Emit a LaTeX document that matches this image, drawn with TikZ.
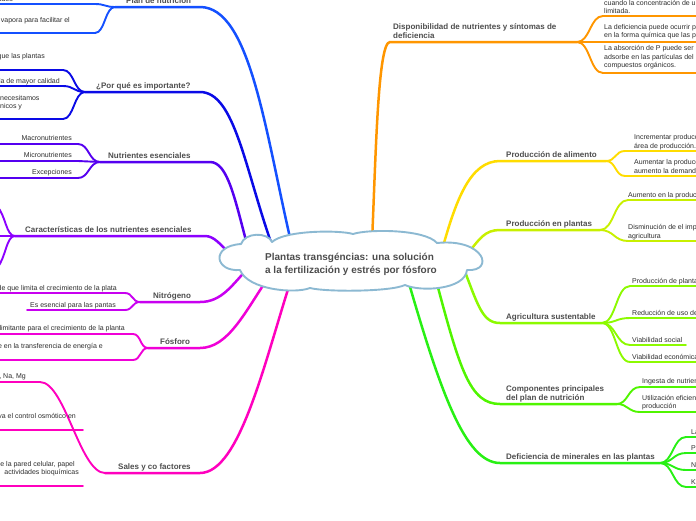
\documentclass[tikz,border=0pt]{standalone}
\usepackage{fontspec}
\setmainfont{Liberation Sans}
\definecolor{cPlan}{RGB}{20,80,255}
\definecolor{cPQ}{RGB}{10,10,230}
\definecolor{cNE}{RGB}{85,0,240}
\definecolor{cCA}{RGB}{140,0,255}
\definecolor{cNI}{RGB}{200,0,240}
\definecolor{cFO}{RGB}{240,0,215}
\definecolor{cSA}{RGB}{255,0,190}
\definecolor{cDI}{RGB}{255,150,0}
\definecolor{cPA}{RGB}{255,220,0}
\definecolor{cPP}{RGB}{200,240,0}
\definecolor{cAG}{RGB}{140,250,0}
\definecolor{cCO}{RGB}{80,245,0}
\definecolor{cDE}{RGB}{40,240,20}
\definecolor{cCloud}{RGB}{140,185,210}
\definecolor{hdrgray}{RGB}{77,77,77}
\definecolor{subgray}{RGB}{45,45,45}
\tikzset{
  hdr/.style={font=\fontsize{8}{9}\selectfont\bfseries, text=hdrgray, inner sep=0, anchor=base west, align=left},
  sub/.style={font=\fontsize{7}{8.5}\selectfont, text=subgray, inner sep=0, align=left},
  br/.style={line width=2.5, line cap=round},
  sb/.style={line width=1.9, line cap=round},
  cloudline/.style={draw=cCloud, line width=1.9, fill=white, line join=round},
}
\begin{document}
\begin{tikzpicture}[x=1pt,y=-1pt]
\useasboundingbox (0,0) rectangle (696,520);

% ---------- LEFT: Plan de nutricion
\coordinate (pnJ) at (115,7); \coordinate (pnE) at (200,7); \coordinate (pnC) at (291,242);
\coordinate (pnA) at (95,4); \coordinate (pnA0) at (-5,4);
\coordinate (pnB) at (95,33); \coordinate (pnB0) at (-5,33);
\draw[br,cPlan] (pnC) .. controls (265,130) and (250,7) .. (pnE) -- (pnJ);
\draw[sb,cPlan] (pnJ) .. controls (105,7) and (105,4) .. (pnA) -- (pnA0);
\draw[sb,cPlan] (pnJ) .. controls (105,7) and (105,33) .. (pnB) -- (pnB0);
\node[sub,anchor=base east] (pnAt) at (13,1) {estimados};
\node[sub,anchor=base east] (pnBt) at (70,22) {vapora para facilitar el};
\node[hdr] (pn) at (126,3) {Plan de nutrición};

% ---------- Por que es importante
\coordinate (pqJ) at (85,92); \coordinate (pqE) at (200,92); \coordinate (pqC) at (273,248);
\coordinate (pqA) at (63,70); \coordinate (pqA0) at (-5,70);
\coordinate (pqB) at (63,86); \coordinate (pqB0) at (-5,86);
\coordinate (pqD) at (63,119); \coordinate (pqD0) at (-5,119);
\draw[br,cPQ] (pqC) .. controls (245,170) and (235,92) .. (pqE) -- (pqJ);
\draw[sb,cPQ] (pqJ) .. controls (74,92) and (74,70) .. (pqA) -- (pqA0);
\draw[sb,cPQ] (pqJ) .. controls (74,92) and (74,86) .. (pqB) -- (pqB0);
\draw[sb,cPQ] (pqJ) .. controls (74,92) and (74,119) .. (pqD) -- (pqD0);
\node[sub,anchor=base east] (pqAt) at (45,58) {que las plantas};
\node[sub,anchor=base east] (pqBt) at (60,83) {la de mayor calidad};
\node[sub,anchor=base west] (pqDt) at (0,108.5) {necesitamos\\nicos y};
\node[hdr] (pq) at (96,88) {¿Por qué es importante?};

% ---------- Nutrientes esenciales
\coordinate (neJ) at (100,162); \coordinate (neE) at (210,162); \coordinate (neC) at (248,248);
\coordinate (neA) at (78,144); \coordinate (neA0) at (-5,144);
\coordinate (neB) at (78,161); \coordinate (neB0) at (-5,161);
\coordinate (neD) at (78,178); \coordinate (neD0) at (-5,178);
\draw[br,cNE] (neC) .. controls (235,200) and (228,162) .. (neE) -- (neJ);
\draw[sb,cNE] (neJ) .. controls (89,162) and (89,144) .. (neA) -- (neA0);
\draw[sb,cNE] (neJ) .. controls (89,162) and (89,161) .. (neB) -- (neB0);
\draw[sb,cNE] (neJ) .. controls (89,162) and (89,178) .. (neD) -- (neD0);
\node[sub,anchor=base east] (neAt) at (72,140.5) {Macronutrientes};
\node[sub,anchor=base east] (neBt) at (72,157.5) {Micronutrientes};
\node[sub,anchor=base east] (neDt) at (72,174.5) {Excepciones};
\node[hdr] (ne) at (108,158) {Nutrientes esenciales};

% ---------- Caracteristicas
\coordinate (caJ) at (15,236); \coordinate (caE) at (205,236); \coordinate (caC) at (232,256);
\coordinate (caA) at (-3,206); \coordinate (caB) at (-5,236); \coordinate (caD) at (-3,268);
\draw[br,cCA] (caC) .. controls (220,244) and (214,236) .. (caE) -- (caJ);
\draw[sb,cCA] (caJ) .. controls (6,236) and (6,216) .. (caA);
\draw[sb,cCA] (caJ) -- (caB);
\draw[sb,cCA] (caJ) .. controls (6,236) and (6,258) .. (caD);
\node[hdr] (ca) at (25,232.5) {Características de los nutrientes esenciales};

% ---------- Nitrogeno
\coordinate (niJ) at (140,302); \coordinate (niE) at (200,302); \coordinate (niC) at (250,266);
\coordinate (niA) at (125,293); \coordinate (niA0) at (-5,293);
\coordinate (niB) at (125,310); \coordinate (niB0) at (27,310);
\draw[br,cNI] (niC) .. controls (232,285) and (222,302) .. (niE) -- (niJ);
\draw[sb,cNI] (niJ) .. controls (132,302) and (133,293) .. (niA) -- (niA0);
\draw[sb,cNI] (niJ) .. controls (132,302) and (133,310) .. (niB) -- (niB0);
\node[sub,anchor=base east] (niAt) at (117,290) {de que limita el crecimiento de la plata};
\node[sub,anchor=base east] (niBt) at (116,307) {Es esencial para las pantas};
\node[hdr] (ni) at (153,298) {Nitrógeno};

% ---------- Fosforo
\coordinate (foJ) at (148,348); \coordinate (foE) at (200,348); \coordinate (foC) at (268,278);
\coordinate (foA) at (133,334); \coordinate (foA0) at (-5,334);
\coordinate (foB) at (133,360); \coordinate (foB0) at (-5,360);
\draw[br,cFO] (foC) .. controls (245,312) and (228,348) .. (foE) -- (foJ);
\draw[sb,cFO] (foJ) .. controls (140,348) and (141,334) .. (foA) -- (foA0);
\draw[sb,cFO] (foJ) .. controls (140,348) and (141,360) .. (foB) -- (foB0);
\node[sub,anchor=base east] (foAt) at (125,330.5) {limitante para el crecimiento de la planta};
\node[sub,anchor=base east] (foBt) at (103,348) {e en la transferencia de energía e};
\node[hdr] (fo) at (160,344.5) {Fósforo};

% ---------- Sales y co factores
\coordinate (saJ) at (105,473); \coordinate (saE) at (200,473); \coordinate (saC) at (291,280);
\coordinate (saA) at (40,382); \coordinate (saA0) at (-5,382);
\coordinate (saL1) at (83,430); \coordinate (saL10) at (-5,430);
\coordinate (saL2) at (83,486); \coordinate (saL20) at (-5,486);
\draw[br,cSA] (saC) .. controls (265,360) and (240,473) .. (saE) -- (saJ);
\draw[sb,cSA] (saJ) .. controls (80,473) and (65,382) .. (saA) -- (saA0);
\draw[sb,cSA] (saL10) -- (saL1);
\draw[sb,cSA] (saL20) -- (saL2);
\node[sub,anchor=base east] (saAt) at (26,378) {, Na, Mg};
\node[sub,anchor=base east] (saBt) at (76,418.5) {va el control osmótico en};
\node[sub,anchor=base east] (saDt) at (79,474.5) {de la pared celular, papel\\\hspace*{8pt}actividades bioquímicas};
\node[hdr] (sa) at (118,469.5) {Sales y co factores};

% ---------- RIGHT: Disponibilidad
\coordinate (diJ) at (577,42); \coordinate (diE) at (390,42); \coordinate (diC) at (372,242);
\coordinate (diA) at (603,16); \coordinate (diA1) at (700,16);
\coordinate (diB1) at (700,42);
\coordinate (diD) at (603,73); \coordinate (diD1) at (700,73);
\draw[br,cDI] (diC) .. controls (376,150) and (378,42) .. (diE) -- (diJ);
\draw[sb,cDI] (diJ) .. controls (590,42) and (590,16) .. (diA) -- (diA1);
\draw[sb,cDI] (diJ) -- (diB1);
\draw[sb,cDI] (diJ) .. controls (590,42) and (590,73) .. (diD) -- (diD1);
\node[sub,anchor=base west] (diAt) at (604,13.5) {cuando la concentración de u\\limitada.};
\node[sub,anchor=base west] (diBt) at (604,37.5) {La deficiencia puede ocurrir p\\en la forma química que las p};
\node[sub,anchor=base west] (diDt) at (604,67.5) {La absorción de P puede ser\\adsorbe en las partículas del\\compuestos orgánicos.};
\node[hdr] (di) at (393,38.5) {Disponibilidad de nutrientes y síntomas de\\deficiencia};

% ---------- Produccion de alimento
\coordinate (paJ) at (606,161); \coordinate (paE) at (500,161); \coordinate (paC) at (442,250);
\coordinate (paA) at (625,151); \coordinate (paA1) at (700,151);
\coordinate (paB) at (625,176); \coordinate (paB1) at (700,176);
\draw[br,cPA] (paC) .. controls (456,200) and (470,161) .. (paE) -- (paJ);
\draw[sb,cPA] (paJ) .. controls (616,161) and (615,151) .. (paA) -- (paA1);
\draw[sb,cPA] (paJ) .. controls (616,161) and (615,176) .. (paB) -- (paB1);
\node[sub,anchor=base west] (paAt) at (634,148) {Incrementar producción\\área de producción.};
\node[sub,anchor=base west] (paBt) at (634,173) {Aumentar la producción\\aumento la demanda};
\node[hdr] (pa) at (506,157) {Producción de alimento};

% ---------- Produccion en plantas
\coordinate (ppJ) at (600,230); \coordinate (ppE) at (500,230); \coordinate (ppC) at (466,256);
\coordinate (ppA) at (628,200); \coordinate (ppA1) at (700,200);
\coordinate (ppB) at (628,241); \coordinate (ppB1) at (700,241);
\draw[br,cPP] (ppC) .. controls (480,238) and (485,230) .. (ppE) -- (ppJ);
\draw[sb,cPP] (ppJ) .. controls (614,230) and (614,200) .. (ppA) -- (ppA1);
\draw[sb,cPP] (ppJ) .. controls (614,230) and (614,241) .. (ppB) -- (ppB1);
\node[sub,anchor=base west] (ppAt) at (628,197) {Aumento en la producción};
\node[sub,anchor=base west] (ppBt) at (628,238) {Disminución de el impacto\\agricultura};
\node[hdr] (pp) at (506,226.5) {Producción en plantas};

% ---------- Agricultura sustentable
\coordinate (agJ) at (602,323); \coordinate (agE) at (500,323); \coordinate (agC) at (462,264);
\coordinate (agA) at (630,286); \coordinate (agA1) at (700,286);
\coordinate (agB) at (630,318); \coordinate (agB1) at (700,318);
\coordinate (agD) at (630,345); \coordinate (agD1) at (686,345);
\coordinate (agF) at (630,362); \coordinate (agF1) at (700,362);
\draw[br,cAG] (agC) .. controls (478,305) and (482,323) .. (agE) -- (agJ);
\draw[sb,cAG] (agJ) .. controls (616,323) and (616,286) .. (agA) -- (agA1);
\draw[sb,cAG] (agJ) .. controls (616,323) and (616,318) .. (agB) -- (agB1);
\draw[sb,cAG] (agJ) .. controls (616,323) and (616,345) .. (agD) -- (agD1);
\draw[sb,cAG] (agJ) .. controls (616,323) and (616,362) .. (agF) -- (agF1);
\node[sub,anchor=base west] (agAt) at (632,283) {Producción de plantas};
\node[sub,anchor=base west] (agBt) at (632,315) {Reducción de uso de};
\node[sub,anchor=base west] (agDt) at (632,342) {Viabilidad social};
\node[sub,anchor=base west] (agFt) at (632,359) {Viabilidad económica};
\node[hdr] (ag) at (506,319) {Agricultura sustentable};

% ---------- Componentes principales
\coordinate (coJ) at (617,404); \coordinate (coE) at (500,404); \coordinate (coC) at (436,280);
\coordinate (coA) at (640,387); \coordinate (coA1) at (700,387);
\coordinate (coB) at (640,412); \coordinate (coB1) at (700,412);
\draw[br,cCO] (coC) .. controls (460,370) and (470,404) .. (coE) -- (coJ);
\draw[sb,cCO] (coJ) .. controls (628,404) and (628,387) .. (coA) -- (coA1);
\draw[sb,cCO] (coJ) .. controls (628,404) and (628,412) .. (coB) -- (coB1);
\node[sub,anchor=base west] (coAt) at (642,383) {Ingesta de nutrientes};
\node[sub,anchor=base west] (coBt) at (642,408.5) {Utilización eficiente\\producción};
\node[hdr] (co) at (506,400) {Componentes principales\\del plan de nutrición};

% ---------- Deficiencia de minerales
\coordinate (deJ) at (660,463); \coordinate (deE) at (500,463); \coordinate (deC) at (408,280);
\coordinate (deA) at (686,437); \coordinate (deA1) at (700,437);
\coordinate (deB) at (686,453); \coordinate (deB1) at (700,453);
\coordinate (deD) at (686,470); \coordinate (deD1) at (700,470);
\coordinate (deF) at (686,487); \coordinate (deF1) at (700,487);
\draw[br,cDE] (deC) .. controls (440,390) and (465,463) .. (deE) -- (deJ);
\draw[sb,cDE] (deJ) .. controls (673,463) and (673,437) .. (deA) -- (deA1);
\draw[sb,cDE] (deJ) .. controls (673,463) and (673,453) .. (deB) -- (deB1);
\draw[sb,cDE] (deJ) .. controls (673,463) and (673,470) .. (deD) -- (deD1);
\draw[sb,cDE] (deJ) .. controls (673,463) and (673,487) .. (deF) -- (deF1);
\node[sub,anchor=base west] (deAt) at (691,434) {La};
\node[sub,anchor=base west] (deBt) at (691,450) {P};
\node[sub,anchor=base west] (deDt) at (691,467) {N};
\node[sub,anchor=base west] (deFt) at (691,484) {K};
\node[hdr] (de) at (506,459) {Deficiencia de minerales en las plantas};

% ---------- Central cloud
\coordinate (clA) at (240,270); \coordinate (clB) at (241,244); \coordinate (clC) at (272,242);
\coordinate (clD) at (353,234); \coordinate (clE) at (437,243); \coordinate (clF) at (467,270);
\coordinate (clG) at (405,285); \coordinate (clH) at (310,288);
\path[cloudline] (clA) .. controls (215,272) and (210,246) .. (clB)
  .. controls (245,232) and (268,232) .. (clC)
  .. controls (285,230) and (340,230) .. (clD)
  .. controls (368,229) and (425,229) .. (clE)
  .. controls (485,238) and (495,272) .. (clF)
  .. controls (465,290) and (420,292) .. (clG)
  .. controls (390,292) and (325,292) .. (clH)
  .. controls (295,294) and (248,290) .. (clA) -- cycle;
\node[font=\fontsize{10}{13}\selectfont\bfseries, text=hdrgray, align=left, inner sep=0] (ct) at (351,264.5)
  {Plantas transgéncias: una solución\\a la fertilización y estrés por fósforo};
\end{tikzpicture}
\end{document}
